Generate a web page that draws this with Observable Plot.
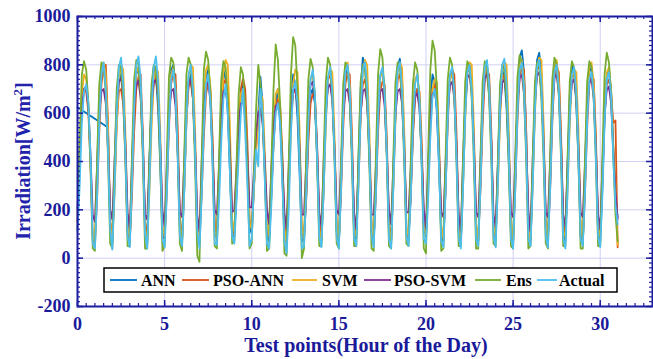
<!DOCTYPE html>
<html><head><meta charset="utf-8">
<script src="https://cdn.jsdelivr.net/npm/d3@7"></script>
<script src="https://cdn.jsdelivr.net/npm/@observablehq/plot@0.6"></script>
<style>body{margin:0;background:#fff;}</style>
</head><body><div id="chart"></div>
<script>
const seriesNames = ["ANN", "PSO-ANN", "SVM", "PSO-SVM", "Ens", "Actual"];
const seriesColors = ["#0072BD", "#D95319", "#EDB120", "#7E2F8E", "#77AC30", "#4DBEEE"];
const xTicks = [0, 5, 10, 15, 20, 25, 30];
const yTicks = [-200, 0, 200, 400, 600, 800, 1000];
const pointsPerDay = 8;

const ann = [
624,null,null,null,null,null,null,null, null,null,null,null,null,null,541,140,
60,300,580,740,760,690,460,120, 70,320,600,760,790,700,490,140,
60,380,680,790,760,620,380,90, 80,310,600,780,800,700,460,130,
70,280,560,730,760,690,450,100, 60,300,580,750,780,680,430,120,
80,360,660,780,740,600,350,90, 90,260,500,660,720,600,380,130,
100,290,480,600,750,630,360,90, 70,260,480,640,700,600,350,100,
60,340,640,760,720,580,340,70, 80,250,520,680,700,640,420,120,
70,280,580,740,770,680,450,110, 60,300,600,760,780,700,460,100,
80,400,700,830,800,660,420,110, 70,290,590,750,780,690,450,110,
60,310,610,790,825,740,500,120, 80,260,520,680,700,640,420,130,
90,360,660,760,730,600,380,90, 70,290,590,750,770,690,460,110,
60,300,600,770,790,700,470,100, 70,310,610,780,800,720,480,120,
80,380,680,780,750,620,400,100, 60,330,640,830,860,770,520,130,
70,320,630,820,850,760,510,120, 80,300,600,780,810,720,480,110,
70,370,670,800,770,640,400,90, 60,300,600,770,790,700,460,120,
70,290,580,750,780,690,450,250, 170];

const psoAnn = [
150,420,620,700,690,600,380,80, 60,250,520,720,790,800,560,160,
80,320,560,690,700,640,420,110, 70,260,520,700,750,760,520,150,
90,330,590,730,750,670,450,120, 80,270,540,720,770,760,540,160,
70,320,580,710,730,660,440,110, 90,260,500,680,720,700,500,150,
80,340,590,720,740,670,450,130, 100,300,540,700,745,700,480,160,
120,300,460,560,620,560,360,110, 90,260,470,620,660,640,440,140,
70,300,560,680,700,640,420,100, 90,240,480,640,680,670,470,150,
80,330,600,740,760,680,460,120, 70,270,540,720,770,760,520,130,
90,320,590,720,740,670,450,130, 80,260,520,690,730,720,500,140,
70,330,600,740,760,680,460,110, 90,250,500,660,700,690,490,160,
100,310,570,700,720,650,430,120, 80,280,560,740,780,760,520,150,
70,350,620,780,800,710,480,120, 80,280,550,740,780,760,520,130,
90,330,600,740,760,690,460,130, 70,290,570,750,790,780,530,140,
80,350,630,780,800,720,480,140, 90,280,560,750,790,770,520,150,
80,330,600,750,770,690,460,120, 70,270,540,720,760,740,510,130,
90,320,590,720,740,680,560,570, 45];

const svm = [
180,450,680,760,740,640,400,90, 70,380,680,800,810,760,520,150,
60,260,540,740,800,780,520,140, 80,340,630,770,790,690,450,120,
70,270,540,730,790,770,520,130, 90,320,610,760,790,690,440,130,
80,280,560,750,800,790,530,140, 70,350,640,780,800,710,460,110,
90,290,570,770,820,800,540,160, 110,340,560,680,700,620,420,150,
120,280,440,580,680,660,440,150, 90,320,560,680,700,630,420,120,
60,260,530,720,780,770,520,130, 80,330,600,740,760,680,440,120,
70,270,550,740,780,770,510,130, 80,350,640,790,810,710,470,120,
90,300,580,770,820,800,540,150, 80,330,610,750,770,680,450,120,
70,290,570,770,810,790,530,130, 90,320,600,740,760,680,440,130,
100,270,520,700,740,730,490,140, 80,330,610,740,760,680,450,110,
70,290,570,770,810,800,540,140, 80,340,630,780,800,710,470,130,
90,290,570,770,810,800,540,140, 80,360,650,800,820,730,490,130,
70,300,590,790,830,820,560,140, 80,350,650,800,820,730,490,110,
90,280,550,740,780,770,530,150, 80,350,640,790,810,720,480,120,
90,340,620,770,790,700,470,300, 55];

const psoSvm = [
200,430,620,700,710,620,420,180, 150,380,600,690,700,640,450,200,
160,400,640,730,745,670,470,190, 120,390,630,720,735,660,460,180,
160,400,640,725,740,670,470,200, 130,380,600,690,700,630,440,190,
170,400,630,725,740,660,460,180, 110,390,620,715,730,650,450,200,
180,380,600,690,700,630,440,190, 200,370,560,640,650,590,420,210,
210,360,520,600,620,560,400,200, 140,370,550,630,640,580,410,190,
120,380,600,690,700,640,450,180, 180,390,620,715,730,650,460,190,
130,390,610,705,720,650,450,200, 180,380,600,690,700,640,440,190,
120,380,600,690,700,640,450,180, 180,380,600,690,700,630,440,200,
140,380,600,690,700,640,450,190, 190,370,590,670,680,620,430,200,
120,380,590,680,690,630,440,190, 170,390,620,715,730,660,460,180,
110,400,640,745,760,680,470,190, 170,400,640,745,760,680,470,180,
130,390,620,725,740,670,460,190, 170,400,640,745,760,680,470,200,
110,410,650,755,770,690,480,190, 170,400,640,745,760,680,470,180,
130,390,620,725,740,660,460,190, 170,390,620,725,740,660,460,180,
120,380,600,695,710,640,450,280, 160];

const ens = [
120,480,760,815,780,640,360,40, 30,400,720,810,790,680,420,60,
40,380,700,800,790,660,400,50, 50,420,740,820,800,680,410,40,
40,400,720,800,790,670,400,30, 50,410,750,830,810,690,420,60,
30,420,760,830,800,660,380,10, -15,400,780,855,820,680,400,50,
40,420,740,815,790,660,390,60, 70,380,680,790,760,620,360,40,
60,350,620,800,720,580,340,30, 40,380,700,885,820,640,380,20,
10,400,760,915,880,700,420,0, 40,420,740,825,790,660,400,50,
50,410,730,830,800,670,400,60, 40,400,720,810,790,660,390,50,
50,420,730,800,780,650,390,40, 30,420,760,865,830,680,410,50,
40,410,730,810,790,660,400,60, 50,400,720,810,780,650,390,40,
20,430,780,900,860,700,420,30, 40,420,740,830,800,670,400,50,
50,410,730,815,790,660,390,40, 40,410,730,815,790,660,400,60,
50,400,720,800,780,650,390,50, 40,420,750,840,810,680,410,40,
50,410,730,810,790,660,400,60, 40,420,740,830,800,670,410,50,
50,410,730,815,790,660,400,40, 40,410,730,815,790,660,400,50,
50,420,760,850,810,680,420,180, 70];

const actual = [
110,300,560,690,720,640,420,60, 40,250,560,760,810,700,450,120,
35,280,600,790,830,720,430,90, 45,300,620,800,835,740,470,100,
40,290,610,790,835,730,460,80, 45,260,560,740,780,690,420,90,
50,270,590,760,800,700,440,110, 40,250,540,720,760,650,400,60,
55,230,480,660,720,600,350,90, 60,240,420,600,700,520,300,50,
80,300,450,380,700,600,320,60, 40,220,460,600,640,560,330,70,
20,200,520,700,730,640,380,40, 50,260,560,740,780,680,420,90,
45,270,570,750,790,690,430,85, 40,280,590,770,800,700,440,80,
50,290,600,780,810,710,450,95, 45,260,580,760,790,690,430,80,
40,280,600,780,810,700,440,90, 50,250,540,720,760,660,400,80,
60,240,500,670,700,620,380,70, 45,270,580,760,790,690,420,85,
40,280,590,770,800,700,440,80, 50,290,610,790,820,720,450,90,
45,300,620,800,825,720,460,85, 40,280,600,780,810,710,450,80,
50,290,610,790,820,720,460,90, 45,280,590,770,800,700,440,85,
40,270,580,760,790,690,430,80, 50,260,570,740,770,680,420,90,
45,260,560,740,770,670,410,220, 140];

const seriesValues = [ann, psoAnn, svm, psoSvm, ens, actual];
const rows = seriesNames.flatMap((name, j) =>
  seriesValues[j].map((v, i) => ({x: i / pointsPerDay, y: v, s: name})).filter(d => d.y != null));

const xMinor = d3.range(0, 33.01, 0.5);
const yMinor = d3.range(-200, 1000.1, 20);
const navy = "#1a1a9a";
const frameCol = "#1c1ca0";
const gridCol = "#cfd0f4";
const fmt = d => String(d);

const plot = Plot.plot({
  width: 653, height: 359,
  marginLeft: 77, marginRight: 1, marginTop: 16, marginBottom: 53,
  style: {fontFamily: "'Liberation Serif', 'Times New Roman', serif", fontWeight: "bold", fontSize: "18px", color: navy, background: "#fff"},
  x: {domain: [0, 33]},
  y: {domain: [-200, 1000]},
  color: {domain: seriesNames, range: seriesColors},
  marks: [
    Plot.gridX(xTicks.slice(1), {stroke: gridCol, strokeOpacity: 1, strokeWidth: 1}),
    Plot.gridY(yTicks.slice(1, -1), {stroke: gridCol, strokeOpacity: 1, strokeWidth: 1}),
    Plot.line(rows, {x: "x", y: "y", z: "s", stroke: "s", strokeWidth: 1.8}),
    Plot.tickX(xTicks, {x: d => d, insetTop: 284, stroke: frameCol, strokeWidth: 1.5}),
    Plot.tickX(xTicks, {x: d => d, insetBottom: 284, stroke: frameCol, strokeWidth: 1.5}),
    Plot.tickX(xMinor, {x: d => d, insetTop: 287, stroke: frameCol, strokeWidth: 1.2}),
    Plot.tickX(xMinor, {x: d => d, insetBottom: 287, stroke: frameCol, strokeWidth: 1.2}),
    Plot.tickY(yTicks, {y: d => d, insetRight: 569, stroke: frameCol, strokeWidth: 1.5}),
    Plot.tickY(yTicks, {y: d => d, insetLeft: 569, stroke: frameCol, strokeWidth: 1.5}),
    Plot.tickY(yMinor, {y: d => d, insetRight: 572, stroke: frameCol, strokeWidth: 1.2}),
    Plot.tickY(yMinor, {y: d => d, insetLeft: 572, stroke: frameCol, strokeWidth: 1.2}),
    Plot.frame({stroke: frameCol, strokeWidth: 2}),
    Plot.axisX(xTicks, {tickSize: 0, tickPadding: 11, label: null, tickFormat: fmt, fontSize: 18, fontWeight: "bold", fill: navy}),
    Plot.axisY(yTicks, {tickSize: 0, tickPadding: 7, label: null, tickFormat: fmt, fontSize: 18, fontWeight: "bold", fill: navy})
  ]
});
document.getElementById("chart").appendChild(plot);

const svg = d3.select(plot);
const font = "'Liberation Serif', 'Times New Roman', serif";
svg.append("text")
  .attr("x", 366).attr("y", 352).attr("text-anchor", "middle")
  .attr("font-family", font).attr("font-weight", "bold").attr("font-size", 20).attr("fill", navy)
  .text("Test points(Hour of the Day)");
const yl = svg.append("text")
  .attr("transform", "translate(30,161) rotate(-90)").attr("text-anchor", "middle")
  .attr("font-family", font).attr("font-weight", "bold").attr("font-size", 20).attr("fill", "#2222aa");
yl.append("tspan").text("Irradiation[W/m");
yl.append("tspan").attr("font-size", 13).attr("dy", -8).text("2");
yl.append("tspan").attr("dy", 8).text("]");

// legend
const lg = svg.append("g");
lg.append("rect").attr("x", 104).attr("y", 268).attr("width", 513).attr("height", 24)
  .attr("fill", "#fff").attr("stroke", "#000").attr("stroke-width", 1.5);
const legendPos = [[110, 137, 141], [182, 209, 213], [292, 317, 322], [364, 391, 394], [475, 501, 506], [537, 557, 559]];
seriesNames.forEach((n, i) => {
  const [a, b, t] = legendPos[i];
  lg.append("line").attr("x1", a).attr("x2", b).attr("y1", 280).attr("y2", 280)
    .attr("stroke", seriesColors[i]).attr("stroke-width", 1.8);
  lg.append("text").attr("x", t).attr("y", 286).attr("text-anchor", "start").attr("font-family", font).attr("font-weight", "bold")
    .attr("font-size", 16).attr("fill", "#000").text(n);
});
</script></body></html>
